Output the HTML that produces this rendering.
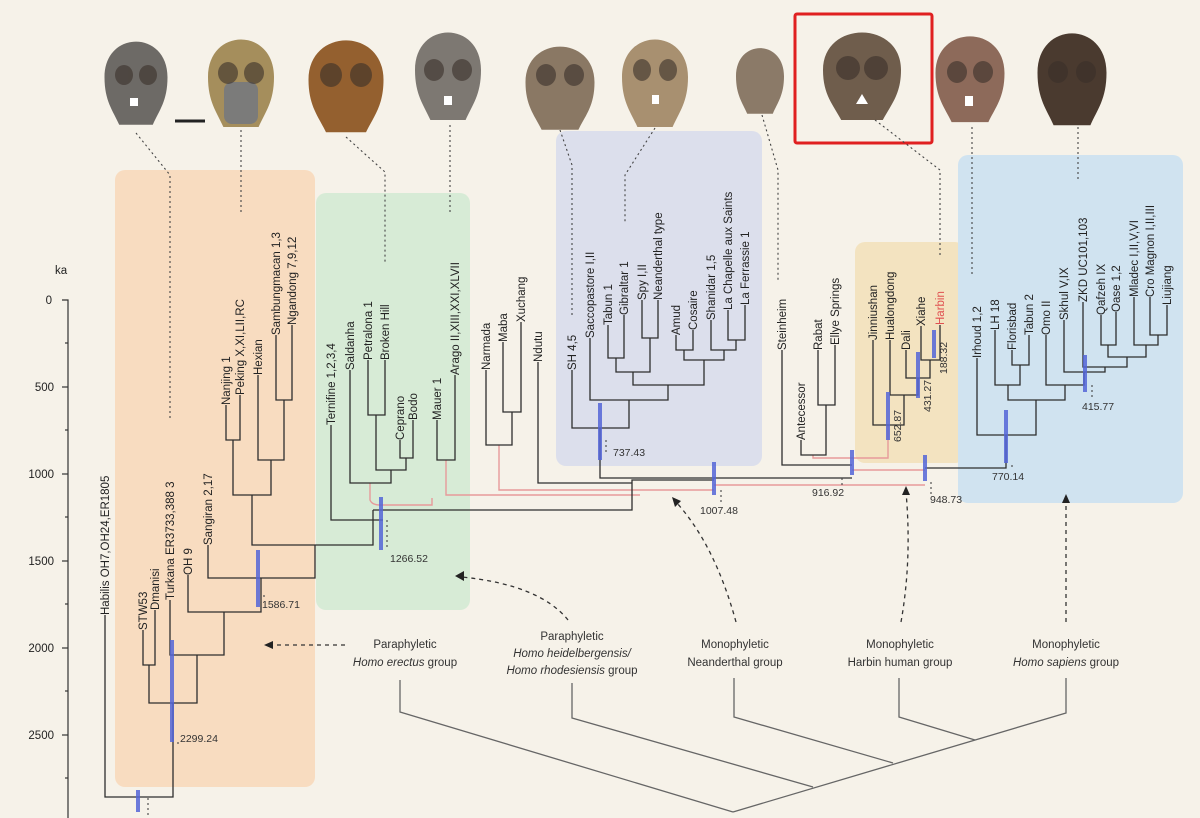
<!DOCTYPE html>
<html><head><meta charset="utf-8"><style>
html,body{margin:0;padding:0;background:#f6f2e9;}
svg{display:block;font-family:"Liberation Sans",sans-serif;}
.t{font-size:11.5px;fill:#222;}
.tr{font-size:11.5px;fill:#222;}
.br path{fill:none;stroke:#2e2e2e;stroke-width:1.3;}
.pk{fill:none;stroke:#e79a9a;stroke-width:1.4;}
.bb{stroke:#5466d8;stroke-width:4;opacity:.85;}
.dt{fill:none;stroke:#444;stroke-width:1.1;stroke-dasharray:2 3;}
.num{font-size:10.5px;fill:#333;}
.lab{font-size:11.5px;fill:#333;text-anchor:middle;}
</style></head><body>
<svg width="1200" height="818" viewBox="0 0 1200 818" xmlns="http://www.w3.org/2000/svg">
<defs>
<path id="sk" d="M-30,-5 C-30,-55 30,-55 30,-5 C30,20 22,30 16,45 L-16,45 C-22,30 -30,20 -30,-5Z"/>
</defs>
<rect width="1200" height="818" fill="#f6f2e9"/>
<!-- group boxes -->
<rect x="115" y="170" width="200" height="617" rx="10" fill="#f8dcc0"/>
<rect x="316" y="193" width="154" height="417" rx="10" fill="#d7ebd6"/>
<rect x="556" y="131" width="206" height="335" rx="10" fill="#dcdfec"/>
<rect x="855" y="242" width="110" height="221" rx="10" fill="#f3e3c0"/>
<rect x="958" y="155" width="225" height="348" rx="10" fill="#d0e3f0"/>

<!-- skulls -->
<g>
<use href="#sk" transform="translate(136,82) scale(1.05,0.95)" fill="#6d6a66"/>
<use href="#sk" transform="translate(241,82) scale(1.1,1)" fill="#a58e5c"/><rect x="224" y="82" width="34" height="42" fill="#7b7b7a" rx="8"/>
<use href="#sk" transform="translate(346,85) scale(1.25,1.05)" fill="#94602f"/>
<use href="#sk" transform="translate(448,75) scale(1.1,1)" fill="#7d7872"/>
<use href="#sk" transform="translate(560,87) scale(1.15,0.95)" fill="#8a7864"/>
<use href="#sk" transform="translate(655,82) scale(1.1,1)" fill="#a89070"/>
<use href="#sk" transform="translate(760,80) scale(0.8,0.75)" fill="#8b7a68"/>
<use href="#sk" transform="translate(862,75) scale(1.3,1)" fill="#6f5d4c"/>
<use href="#sk" transform="translate(970,78) scale(1.15,0.98)" fill="#8d6a5a"/>
<use href="#sk" transform="translate(1072,78) scale(1.15,1.05)" fill="#4a3a2f"/>
<g fill="#3a302a" opacity=".6">
<ellipse cx="124" cy="75" rx="9" ry="10"/><ellipse cx="148" cy="75" rx="9" ry="10"/>
<ellipse cx="228" cy="73" rx="10" ry="11"/><ellipse cx="254" cy="73" rx="10" ry="11"/>
<ellipse cx="331" cy="75" rx="11" ry="12"/><ellipse cx="361" cy="75" rx="11" ry="12"/>
<ellipse cx="434" cy="70" rx="10" ry="11"/><ellipse cx="462" cy="70" rx="10" ry="11"/>
<ellipse cx="546" cy="75" rx="10" ry="11"/><ellipse cx="574" cy="75" rx="10" ry="11"/>
<ellipse cx="642" cy="70" rx="9" ry="11"/><ellipse cx="668" cy="70" rx="9" ry="11"/>
<ellipse cx="848" cy="68" rx="12" ry="12"/><ellipse cx="876" cy="68" rx="12" ry="12"/>
<ellipse cx="957" cy="72" rx="10" ry="11"/><ellipse cx="983" cy="72" rx="10" ry="11"/>
<ellipse cx="1058" cy="72" rx="10" ry="11"/><ellipse cx="1086" cy="72" rx="10" ry="11"/>
</g>
<g fill="#fff"><rect x="130" y="98" width="8" height="8"/><rect x="444" y="96" width="8" height="9"/><rect x="652" y="95" width="7" height="9"/><path d="M856 104l6-10 6 10z"/><rect x="965" y="96" width="8" height="10"/></g>
<line x1="175" y1="121" x2="205" y2="121" stroke="#222" stroke-width="3"/>
<rect x="795" y="14" width="137" height="129" fill="none" stroke="#e02020" stroke-width="3" rx="2"/>
</g>

<!-- dotted skull connectors -->
<path class="dt" d="M136 133L170 175V418"/>
<path class="dt" d="M241 130V215"/>
<path class="dt" d="M346 137L385 172V262"/>
<path class="dt" d="M450 125V212"/>
<path class="dt" d="M560 130L572 165V318"/>
<path class="dt" d="M655 128L625 175V222"/>
<path class="dt" d="M762 115L778 170V282"/>
<path class="dt" d="M875 120L940 170V258"/>
<path class="dt" d="M972 127V275"/>
<path class="dt" d="M1078 127V182"/>

<!-- axis -->
<text x="55" y="274" class="t" font-size="11">ka</text>
<path d="M62 300H68V818" fill="none" stroke="#333" stroke-width="1.2"/>
<g stroke="#333" stroke-width="1.2"><line x1="62" y1="387" x2="68" y2="387"/><line x1="62" y1="474" x2="68" y2="474"/><line x1="62" y1="561" x2="68" y2="561"/><line x1="62" y1="648" x2="68" y2="648"/><line x1="62" y1="735" x2="68" y2="735"/><line x1="65" y1="343" x2="68" y2="343"/><line x1="65" y1="430" x2="68" y2="430"/><line x1="65" y1="517" x2="68" y2="517"/><line x1="65" y1="604" x2="68" y2="604"/><line x1="65" y1="691" x2="68" y2="691"/><line x1="65" y1="778" x2="68" y2="778"/></g>
<g class="t" text-anchor="end" font-size="11"><text x="52" y="304">0</text><text x="54" y="391">500</text><text x="54" y="478">1000</text><text x="54" y="565">1500</text><text x="54" y="652">2000</text><text x="54" y="739">2500</text></g>

<!-- pink lines -->
<path class="pk" d="M370 483V500Q372 505 380 505H432V498"/>
<path class="pk" d="M446 460V495H640"/>
<path class="pk" d="M499 445V490H714"/>
<path class="pk" d="M813 455V458H852"/>
<path class="pk" d="M888 425V458H852"/>
<path class="pk" d="M714 485H925"/>
<path class="pk" d="M852 470H925"/>

<!-- tree branches -->
<g class="br">
<path d="M226 405V440H240V395"/>
<path d="M276 335V400H292V325"/>
<path d="M258 375V460H284V400"/>
<path d="M233 440V495H271V460"/>
<path d="M252 495V545H373V510"/>
<path d="M208 545V578H315V545"/>
<path d="M188 575V612H261V578"/>
<path d="M170 600V655H224V612"/>
<path d="M143 630V665H155V610"/>
<path d="M149 665V703H197V655"/>
<path d="M105 615V797H173V703"/>
<path d="M368 360V415H385V360"/>
<path d="M400 440V458H413V420"/>
<path d="M376 415V470H406V458"/>
<path d="M350 370V483H391V470"/>
<path d="M331 425V520H383"/>
<path d="M437 420V460H455V375"/>
<path d="M373 510H632V480H714"/>
<path d="M503 342V412H521V322"/>
<path d="M486 370V445H512V412"/>
<path d="M538 362V483H632"/>
<path d="M608 325V358H624V315"/>
<path d="M642 300V338H658V300"/>
<path d="M616 358V372H650V338"/>
<path d="M728 310V340H745V305"/>
<path d="M711 320V350H736V340"/>
<path d="M676 335V350H693V330"/>
<path d="M684 350V360H724V350"/>
<path d="M633 372V385H704V360"/>
<path d="M590 338V400H668V385"/>
<path d="M572 370V428H629V400"/>
<path d="M600 428V478H714"/>
<path d="M818 350V405H835V345"/>
<path d="M801 440V455H826V405"/>
<path d="M782 350V465H852"/>
<path d="M921 326V360H940V325"/>
<path d="M906 350V378H930V360"/>
<path d="M890 340V395H918V378"/>
<path d="M873 340V425H904V395"/>
<path d="M714 478H852"/>
<path d="M925 468H1006V435"/>
<path d="M1012 350V365H1029V335"/>
<path d="M995 330V385H1020V365"/>
<path d="M1150 297V335H1167V305"/>
<path d="M1134 297V345H1158V335"/>
<path d="M1101 315V345H1116V312"/>
<path d="M1108 345V357H1146V345"/>
<path d="M1083 302V367H1127V357"/>
<path d="M1064 320V372H1105V367"/>
<path d="M1046 335V385H1084V372"/>
<path d="M1008 385V400H1065V385"/>
<path d="M977 358V435H1036V400"/>
</g>

<!-- blue bars -->
<g class="bb">
<line x1="138" y1="790" x2="138" y2="812"/>
<line x1="172" y1="640" x2="172" y2="742"/>
<line x1="258" y1="550" x2="258" y2="607"/>
<line x1="381" y1="497" x2="381" y2="550"/>
<line x1="600" y1="403" x2="600" y2="460"/>
<line x1="714" y1="462" x2="714" y2="495"/>
<line x1="852" y1="450" x2="852" y2="475"/>
<line x1="925" y1="455" x2="925" y2="481"/>
<line x1="888" y1="392" x2="888" y2="440"/>
<line x1="918" y1="352" x2="918" y2="398"/>
<line x1="934" y1="330" x2="934" y2="358"/>
<line x1="1006" y1="410" x2="1006" y2="463"/>
<line x1="1085" y1="355" x2="1085" y2="392"/>
</g>
<g class="dt"><path d="M148 798V818"/><path d="M178 742V745"/><path d="M264 595V600"/><path d="M387 520V550"/><path d="M606 440V452"/><path d="M721 490V505"/><path d="M842 478V488"/><path d="M931 482V497"/><path d="M1012 465V470"/><path d="M1092 385V400"/></g>
<g class="num">
<text x="180" y="742">2299.24</text>
<text x="262" y="608">1586.71</text>
<text x="390" y="562">1266.52</text>
<text x="613" y="456">737.43</text>
<text x="700" y="514">1007.48</text>
<text x="812" y="496">916.92</text>
<text x="930" y="503">948.73</text>
<text x="992" y="480">770.14</text>
<text x="1082" y="410">415.77</text>
<text transform="translate(901,442) rotate(-90)">652.87</text>
<text transform="translate(931,412) rotate(-90)">431.27</text>
<text transform="translate(947,374) rotate(-90)">188.32</text>
</g>

<!-- taxon labels -->
<g class="tr">
<text transform="translate(109,615) rotate(-90)">Habilis OH7,OH24,ER1805</text>
<text transform="translate(147,630) rotate(-90)">STW53</text>
<text transform="translate(159,610) rotate(-90)">Dmanisi</text>
<text transform="translate(174,600) rotate(-90)">Turkana ER3733,388 3</text>
<text transform="translate(192,575) rotate(-90)">OH 9</text>
<text transform="translate(212,545) rotate(-90)">Sangiran 2,17</text>
<text transform="translate(230,405) rotate(-90)">Nanjing 1</text>
<text transform="translate(244,395) rotate(-90)">Peking X,XI,LII,RC</text>
<text transform="translate(262,375) rotate(-90)">Hexian</text>
<text transform="translate(280,335) rotate(-90)">Sambungmacan 1,3</text>
<text transform="translate(296,325) rotate(-90)">Ngandong 7,9,12</text>
<text transform="translate(335,425) rotate(-90)">Ternifine 1,2,3,4</text>
<text transform="translate(354,370) rotate(-90)">Saldanha</text>
<text transform="translate(372,360) rotate(-90)">Petralona 1</text>
<text transform="translate(389,360) rotate(-90)">Broken Hill</text>
<text transform="translate(404,440) rotate(-90)">Ceprano</text>
<text transform="translate(417,420) rotate(-90)">Bodo</text>
<text transform="translate(441,420) rotate(-90)">Mauer 1</text>
<text transform="translate(459,375) rotate(-90)">Arago II,XIII,XXI,XLVII</text>
<text transform="translate(490,370) rotate(-90)">Narmada</text>
<text transform="translate(507,342) rotate(-90)">Maba</text>
<text transform="translate(525,322) rotate(-90)">Xuchang</text>
<text transform="translate(542,362) rotate(-90)">Ndutu</text>
<text transform="translate(576,370) rotate(-90)">SH 4,5</text>
<text transform="translate(594,338) rotate(-90)">Saccopastore I,II</text>
<text transform="translate(612,325) rotate(-90)">Tabun 1</text>
<text transform="translate(628,315) rotate(-90)">Gibraltar 1</text>
<text transform="translate(646,300) rotate(-90)">Spy I,II</text>
<text transform="translate(662,300) rotate(-90)">Neanderthal type</text>
<text transform="translate(680,335) rotate(-90)">Amud</text>
<text transform="translate(697,330) rotate(-90)">Cosaire</text>
<text transform="translate(715,320) rotate(-90)">Shanidar 1,5</text>
<text transform="translate(732,310) rotate(-90)">La Chapelle aux Saints</text>
<text transform="translate(749,305) rotate(-90)">La Ferrassie 1</text>
<text transform="translate(786,350) rotate(-90)">Steinheim</text>
<text transform="translate(805,440) rotate(-90)">Antecessor</text>
<text transform="translate(822,350) rotate(-90)">Rabat</text>
<text transform="translate(839,345) rotate(-90)">Ellye Springs</text>
<text transform="translate(877,340) rotate(-90)">Jinniushan</text>
<text transform="translate(894,340) rotate(-90)">Hualongdong</text>
<text transform="translate(910,350) rotate(-90)">Dali</text>
<text transform="translate(925,326) rotate(-90)">Xiahe</text>
<text transform="translate(944,325) rotate(-90)" style="fill:#e05050">Harbin</text>
<text transform="translate(981,358) rotate(-90)">Irhoud 1,2</text>
<text transform="translate(999,330) rotate(-90)">LH 18</text>
<text transform="translate(1016,350) rotate(-90)">Florisbad</text>
<text transform="translate(1033,335) rotate(-90)">Tabun 2</text>
<text transform="translate(1050,335) rotate(-90)">Omo II</text>
<text transform="translate(1068,320) rotate(-90)">Skhul V,IX</text>
<text transform="translate(1087,302) rotate(-90)">ZKD UC101,103</text>
<text transform="translate(1105,315) rotate(-90)">Qafzeh IX</text>
<text transform="translate(1120,312) rotate(-90)">Oase 1,2</text>
<text transform="translate(1138,297) rotate(-90)">Mladec I,II,V,VI</text>
<text transform="translate(1154,297) rotate(-90)">Cro Magnon I,II,III</text>
<text transform="translate(1171,305) rotate(-90)">Liujiang</text>
</g>

<!-- bottom group labels -->
<g class="lab">
<text x="405" y="648">Paraphyletic</text><text x="405" y="666"><tspan font-style="italic">Homo erectus</tspan> group</text>
<text x="572" y="640">Paraphyletic</text><text x="572" y="657" font-style="italic">Homo heidelbergensis/</text><text x="572" y="674"><tspan font-style="italic">Homo rhodesiensis</tspan> group</text>
<text x="735" y="648">Monophyletic</text><text x="735" y="666">Neanderthal group</text>
<text x="900" y="648">Monophyletic</text><text x="900" y="666">Harbin human group</text>
<text x="1066" y="648">Monophyletic</text><text x="1066" y="666"><tspan font-style="italic">Homo sapiens</tspan> group</text>
</g>
<g fill="none" stroke="#666" stroke-width="1.3">
<path d="M400 680V712L733 812"/>
<path d="M572 683V718L813 787"/>
<path d="M734 678V717L893 763"/>
<path d="M899 678V717L975 740"/>
<path d="M1066 678V713L733 812"/>
</g>
<!-- dashed arrows -->
<g fill="none" stroke="#333" stroke-width="1.3" stroke-dasharray="4 4">
<path d="M568 620Q540 585 462 577"/>
<path d="M345 645H272"/>
<path d="M736 622Q715 545 676 502"/>
<path d="M901 622Q912 560 906 492"/>
<path d="M1066 622V502"/>
</g>
<g fill="#222">
<path d="M455 576l9-5v10z"/>
<path d="M264 645l9-4v8z"/>
<path d="M672 497l9 4-6 6z"/>
<path d="M906 486l4 9h-8z"/>
<path d="M1066 494l4 9h-8z"/>
</g>
</svg>
</body></html>
